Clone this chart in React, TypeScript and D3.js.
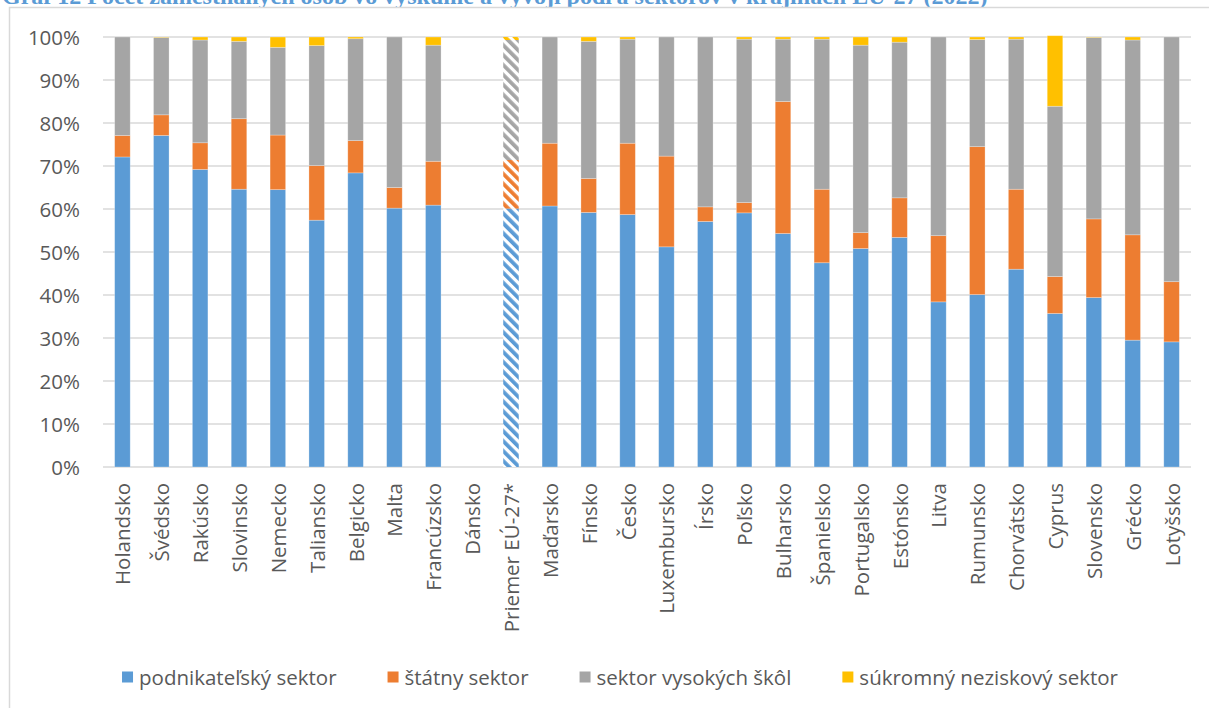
import React from "react";
import * as d3 from "d3";

const countries = [
  "Holandsko", "Švédsko", "Rakúsko", "Slovinsko", "Nemecko", "Taliansko", "Belgicko", "Malta",
  "Francúzsko", "Dánsko", "Priemer EÚ-27*", "Maďarsko", "Fínsko", "Česko", "Luxembursko", "Írsko",
  "Poľsko", "Bulharsko", "Španielsko", "Portugalsko", "Estónsko", "Litva", "Rumunsko", "Chorvátsko",
  "Cyprus", "Slovensko", "Grécko", "Lotyšsko",
];
const averageCategory = "Priemer EÚ-27*";

// shares in % (null = no data)
const business: (number | null)[] = [72.1, 77.1, 69.2, 64.6, 64.5, 57.4, 68.4, 60.2, 60.9, null, 60.1, 60.7, 59.2, 58.7, 51.2, 57.1, 59.1, 54.3, 47.5, 50.8, 53.4, 38.4, 40.1, 46.0, 35.7, 39.4, 29.5, 29.1];
const government: (number | null)[] = [5.0, 4.8, 6.2, 16.4, 12.7, 12.7, 7.5, 4.8, 10.2, null, 11.3, 14.6, 7.9, 16.6, 21.1, 3.4, 2.4, 30.7, 17.1, 3.7, 9.2, 15.4, 34.4, 18.6, 8.6, 18.3, 24.5, 14.0];
const higherEducation: (number | null)[] = [22.9, 18.0, 23.9, 18.0, 20.4, 27.9, 23.7, 35.0, 27.0, null, 27.9, 24.7, 31.9, 24.2, 27.7, 39.5, 38.0, 14.5, 34.9, 43.6, 36.2, 46.2, 24.9, 34.9, 39.6, 42.2, 45.3, 56.9];
const privateNonProfit: (number | null)[] = [0, 0.1, 0.7, 1.0, 2.4, 2.0, 0.4, 0, 1.9, null, 0.7, 0, 1.0, 0.5, 0, 0, 0.5, 0.5, 0.5, 1.9, 1.2, 0, 0.6, 0.5, 16.4, 0.1, 0.7, 0];

const seriesNames = ["podnikateľský sektor", "štátny sektor", "sektor vysokých škôl", "súkromný neziskový sektor"];
const seriesColors = ["#5B9BD5", "#ED7D31", "#A5A5A5", "#FFC000"];
const yTicks = [0, 10, 20, 30, 40, 50, 60, 70, 80, 90, 100];
const titleText = "Graf 12 Počet zamestnaných osôb vo výskume a vývoji podľa sektorov v krajinách EÚ-27 (2022)";

const W = 1209;
const H = 708;
const FONT = "'Open Sans', sans-serif";
const FS = 20.5;

function measure(text: string, font: string): number {
  const c = document.createElement("canvas").getContext("2d");
  if (!c) return text.length * 10;
  c.font = font;
  return c.measureText(text).width;
}

export default function App() {
  const x = d3.scaleBand<string>().domain(countries).range([103, 1191]).paddingInner(0.6).paddingOuter(0.3);
  const y = d3.scaleLinear().domain([0, 100]).range([467, 37]);

  const rows = countries.map((c, i) => ({
    country: c,
    s0: business[i] ?? 0,
    s1: government[i] ?? 0,
    s2: higherEducation[i] ?? 0,
    s3: privateNonProfit[i] ?? 0,
    empty: business[i] === null,
  }));
  const keys = ["s0", "s1", "s2", "s3"];
  const stacked = d3.stack<any>().keys(keys)(rows);

  // legend layout
  const legendFont = `${FS}px ${FONT}`;
  const sq = 11;
  const gapText = 6;
  const gapItem = 51;
  const widths = seriesNames.map((n) => sq + gapText + measure(n, legendFont));
  const total = d3.sum(widths) + gapItem * (widths.length - 1);
  let lx = 620 - total / 2;
  const legendItems = seriesNames.map((n, i) => {
    const item = { name: n, x: lx, color: seriesColors[i] };
    lx += widths[i] + gapItem;
    return item;
  });
  const legendY = 677;

  return (
    <div style={{ position: "absolute", left: 0, top: 0, width: W, height: H, overflow: "hidden" }}>
      <svg width={W} height={H} style={{ display: "block" }}>
        <defs>
          {seriesColors.map((col, i) => (
            <pattern
              key={i}
              id={`hatch${i}`}
              patternUnits="userSpaceOnUse"
              width={7}
              height={7}
              patternTransform="rotate(-45)"
            >
              <rect x={0} y={0} width={7} height={7} fill="#fff" />
              <rect x={0} y={0} width={3.8} height={7} fill={col} />
            </pattern>
          ))}
        </defs>
        <rect x={0} y={0} width={W} height={H} fill="#fff" />
        <text
          x={2}
          y={4}
          fontFamily="'Liberation Serif', 'Times New Roman', serif"
          fontWeight="bold"
          fontSize={24}
          fill="#5B9BD5"
        >
          {titleText}
        </text>
        <rect x={9.5} y={7.5} width={1400} height={900} fill="#fff" stroke="#D9D9D9" strokeWidth={1.5} />

        {/* gridlines */}
        {yTicks.map((t) => (
          <line key={t} x1={103} x2={1191} y1={y(t)} y2={y(t)} stroke="#D9D9D9" strokeWidth={1.5} />
        ))}
        {/* y labels */}
        {yTicks.map((t) => (
          <text
            key={"l" + t}
            x={80}
            y={y(t)}
            textAnchor="end"
            dominantBaseline="central"
            fontFamily={FONT}
            fontSize={FS}
            fill="#595959"
          >
            {`${t}%`}
          </text>
        ))}

        {/* bars */}
        {stacked.map((layer, si) =>
          layer.map((d: any, i: number) => {
            const row = rows[i];
            if (row.empty) return null;
            const h = y(d[0]) - y(d[1]);
            if (h <= 0) return null;
            const isAvg = row.country === averageCategory;
            return (
              <rect
                key={`${si}-${i}`}
                x={x(row.country)}
                y={y(d[1])}
                width={x.bandwidth()}
                height={h}
                fill={isAvg ? `url(#hatch${si})` : seriesColors[si]}
                stroke={isAvg ? "none" : "#ffffff"}
                strokeOpacity={0.35}
                strokeWidth={0.75}
              />
            );
          })
        )}

        {/* category labels */}
        {countries.map((c) => {
          const cx = (x(c) ?? 0) + x.bandwidth() / 2;
          return (
            <text
              key={"c" + c}
              transform={`translate(${cx},483) rotate(-90)`}
              textAnchor="end"
              dominantBaseline="central"
              fontFamily={FONT}
              fontSize={FS}
              fill="#595959"
            >
              {c}
            </text>
          );
        })}

        {/* legend */}
        {legendItems.map((it) => (
          <g key={it.name}>
            <rect x={it.x} y={legendY - sq / 2} width={sq} height={sq} fill={it.color} />
            <text
              x={it.x + sq + gapText}
              y={legendY}
              dominantBaseline="central"
              fontFamily={FONT}
              fontSize={FS}
              fill="#595959"
            >
              {it.name}
            </text>
          </g>
        ))}
      </svg>
    </div>
  );
}
